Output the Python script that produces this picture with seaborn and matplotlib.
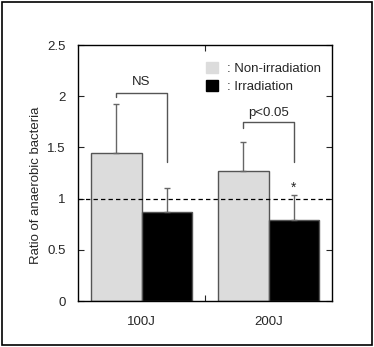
import matplotlib
matplotlib.use("Agg")
import matplotlib.pyplot as plt
import seaborn as sns
import pandas as pd
from matplotlib.patches import Patch, Rectangle
from matplotlib.ticker import FormatStrFormatter, FixedLocator

doses = ["100J", "200J"]
groups = ["Non-irradiation", "Irradiation"]
non_irr = [1.45, 1.27]
irr = [0.87, 0.79]
non_irr_err = [0.47, 0.28]
irr_err = [0.23, 0.25]

sns.set_style("white")
plt.rcParams['font.family'] = ['Liberation Sans', 'DejaVu Sans']

df = pd.DataFrame({
    "dose": doses * 2,
    "group": [groups[0]] * 2 + [groups[1]] * 2,
    "ratio": non_irr + irr,
})

fig = plt.figure(figsize=(3.74, 3.47), dpi=100)
ax = fig.add_axes([78/374, 1 - 301/347, (332-78)/374, (301-45)/347])

palette = {groups[0]: "#dcdcdc", groups[1]: "#000000"}
sns.barplot(data=df, x="dose", y="ratio", hue="group", order=doses, hue_order=groups,
            palette=palette, errorbar=None, width=0.8, ax=ax, legend=False,
            edgecolor="#555555", linewidth=1.0, saturation=1)

# error bars (upper only)
bars = [p for p in ax.patches if isinstance(p, Rectangle)][:4]
errs = non_irr_err + irr_err
vals = non_irr + irr
for p, v, e in zip(bars, vals, errs):
    xc = p.get_x() + p.get_width() / 2
    ax.errorbar([xc], [v], yerr=[[0], [e]], fmt="none", ecolor="#666666",
                elinewidth=1.0, capsize=2, capthick=1.0)

ax.axhline(1.0, color="black", linestyle=(0, (3.5, 2.5)), linewidth=0.9, zorder=3)

ax.set_xlim(-0.5, 1.5)
ax.set_ylim(0, 2.5)
ax.set_yticks([0, 0.5, 1, 1.5, 2, 2.5])
ax.yaxis.set_major_formatter(FormatStrFormatter("%g"))
ax.set_xlabel("")
ax.set_ylabel("Ratio of anaerobic bacteria", fontsize=9.5, labelpad=8)
ax.yaxis.set_label_coords(-0.14, 0.45)
ax.tick_params(axis="y", direction="in", right=True, left=True, length=4, labelsize=9.5,
               width=0.8, pad=9)
ax.tick_params(axis="x", which="major", length=0, labelsize=9.5, pad=11)
ax.xaxis.set_minor_locator(FixedLocator([0.5]))
ax.tick_params(axis="x", which="minor", direction="in", top=True, bottom=True, length=4, width=0.8)
for s in ax.spines.values():
    s.set_visible(True)
    s.set_color("black")
    s.set_linewidth(1.0)

# brackets
bc = "#555555"
ax.plot([-0.2, -0.2, 0.2, 0.2], [1.99, 2.03, 2.03, 1.36], color=bc, lw=1.0)
ax.text(0.0, 2.14, "NS", ha="center", va="center", fontsize=9.5)
ax.plot([0.8, 0.8, 1.2, 1.2], [1.69, 1.75, 1.75, 1.36], color=bc, lw=1.0)
ax.text(1.0, 1.84, "p<0.05", ha="center", va="center", fontsize=9.5)
ax.text(1.2, 1.04, "*", ha="center", va="bottom", fontsize=10)

handles = [Patch(facecolor="#dcdcdc", edgecolor="#dcdcdc"), Patch(facecolor="black", edgecolor="black")]
ax.legend(handles, [": Non-irradiation", ": Irradiation"], loc="upper right",
          bbox_to_anchor=(0.995, 0.97), frameon=False, fontsize=9.5,
          handlelength=0.9, handleheight=0.9, handletextpad=0.75, labelspacing=0.35,
          borderaxespad=0.3)

fig.patches.append(Rectangle((2/374, 2/347), 370/374, 343/347, transform=fig.transFigure,
                             fill=False, edgecolor="black", linewidth=1.2))

fig.savefig("out.png", dpi=100)
